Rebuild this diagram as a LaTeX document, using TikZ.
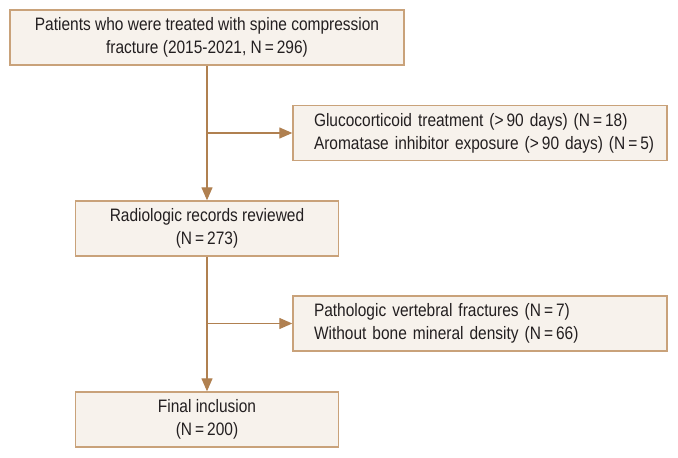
\documentclass[tikz,border=0pt]{standalone}
\usepackage{fontspec}
\setmainfont{Liberation Sans}[FakeStretch=0.86]
\usetikzlibrary{arrows.meta}
\definecolor{boxfill}{HTML}{F7F2EC}
\definecolor{boxline}{HTML}{C9A27A}
\definecolor{arrowc}{HTML}{B08050}
\definecolor{txt}{HTML}{231F20}
\begin{document}
\begin{tikzpicture}[x=1pt,y=-1pt,
  box/.style={draw=boxline,fill=boxfill,line width=1.4pt,inner sep=0pt,align=center,
    font=\fontsize{18}{23}\selectfont,text=txt},
  sidebox/.style={box,minimum width=374pt,minimum height=55pt,text width=332pt,align=left},
  conn/.style={draw=arrowc,line width=1.3pt},
  arr/.style={conn,-{Triangle[length=13pt,width=11pt]}}]
\useasboundingbox (0,0) rectangle (678,458);
\node[box,minimum width=394pt,minimum height=55pt] (a) at (207,37.5)
  {Patients who were treated with spine compression\\fracture (2015-2021, N{\,}={\,}296)};
\node[sidebox] (b) at (480,133)
  {\mbox{Glucocorticoid treatment (>{\,}90 days) (N{\,}={\,}18)}\\\mbox{Aromatase inhibitor exposure (>{\,}90 days) (N{\,}={\,}5)}};
\node[box,minimum width=263pt,minimum height=55pt] (c) at (207,228.5)
  {Radiologic records reviewed\\(N{\,}={\,}273)};
\node[sidebox] (d) at (480,323.5)
  {\mbox{Pathologic vertebral fractures (N{\,}={\,}7)}\\\mbox{Without bone mineral density (N{\,}={\,}66)}};
\node[box,minimum width=263pt,minimum height=55pt] (e) at (207,419.5)
  {Final inclusion\\(N{\,}={\,}200)};
\coordinate (j1) at (a.south |- b.west);
\coordinate (j2) at (c.south |- d.west);
\draw[arr] (a.south) -- (c.north);
\draw[arr] (j1) -- (b.west);
\draw[arr] (c.south) -- (e.north);
\draw[arr] (j2) -- (d.west);
\end{tikzpicture}
\end{document}
